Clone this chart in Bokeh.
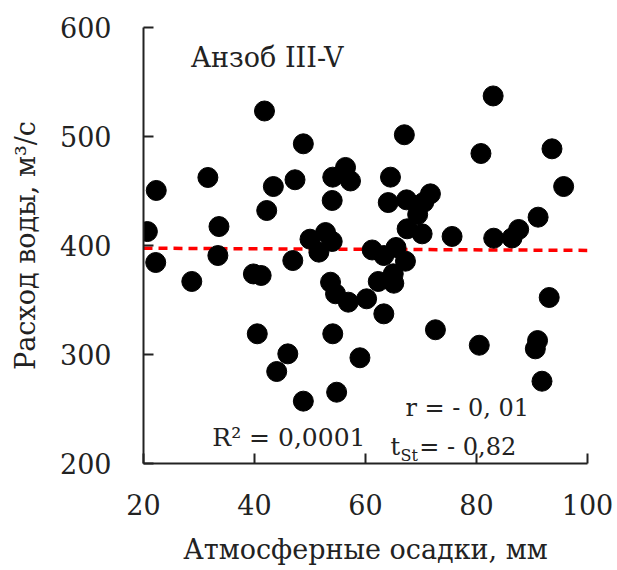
from bokeh.plotting import figure
from bokeh.models import Range1d, Label, FixedTicker
from bokeh.embed import file_html
from bokeh.resources import INLINE

# Atmospheric precipitation, mm
precip = [20.7, 22.2, 22.3, 28.7, 31.6, 33.4, 33.6, 39.8, 41.2, 40.5,
          41.8, 42.2, 43.4, 44.0, 46.0, 46.9, 47.3, 48.8, 48.8, 50.0,
          51.6, 52.8, 54.0, 54.1, 56.4, 57.3, 54.0, 53.7, 54.6, 56.9,
          54.1, 54.8, 59.0, 60.2, 61.2, 62.3, 63.3, 63.3, 64.5, 64.1,
          65.0, 65.1, 65.5, 67.0, 67.2, 67.4, 67.5, 69.4, 70.2, 70.5,
          71.7, 72.6, 75.6, 80.5, 80.8, 83.0, 83.1, 86.4, 87.6, 91.1,
          91.0, 90.6, 91.8, 93.1, 93.6, 95.7]
# Water discharge, m3/s
discharge = [412.8, 384.4, 450.5, 367.0, 462.4, 390.8, 417.4, 373.9, 372.5, 319.0,
             523.4, 432.1, 454.1, 284.4, 300.6, 386.2, 460.3, 493.3, 257.2, 405.8,
             393.9, 411.9, 403.7, 462.7, 471.6, 459.2, 441.3, 366.3, 355.7, 348.0,
             319.0, 265.4, 297.0, 351.1, 395.9, 367.0, 390.8, 337.3, 462.7, 439.4,
             374.0, 365.4, 398.2, 501.6, 385.6, 441.9, 415.3, 428.4, 410.7, 439.7,
             447.4, 322.7, 408.3, 308.5, 484.4, 537.2, 406.7, 406.9, 414.7, 426.0,
             312.8, 305.2, 275.5, 352.3, 488.7, 454.1]

trend_x = [20, 100]
trend_y = [397.5, 395.5]

x_ticks = [20, 40, 60, 80, 100]
y_ticks = [200, 300, 400, 500, 600]

FONT = "DejaVu Serif"
TXT = "#222222"

p = figure(frame_width=444, frame_height=436, output_backend="svg",
           toolbar_location=None, x_range=Range1d(20, 100), y_range=Range1d(200, 600),
           min_border_left=143, min_border_right=30, min_border_top=27, min_border_bottom=107)
p.outline_line_color = None
p.xgrid.grid_line_color = None
p.ygrid.grid_line_color = None

p.line(trend_x, trend_y, line_color="#ff0000", line_width=3.5, line_dash="9 6")
p.scatter(precip, discharge, size=20, fill_color="black", line_color="black")

for ax in (p.xaxis[0], p.yaxis[0]):
    ax.axis_line_width = 2
    ax.axis_line_color = "#222222"
    ax.major_tick_line_width = 2
    ax.major_tick_line_color = "#222222"
    ax.major_tick_in = 10
    ax.major_tick_out = 0
    ax.minor_tick_line_color = None
    ax.major_label_text_font = FONT
    ax.major_label_text_font_size = "27px"
    ax.major_label_text_color = TXT
    ax.axis_label_text_font = FONT
    ax.axis_label_text_font_size = "27px"
    ax.axis_label_text_font_style = "normal"
    ax.axis_label_text_color = TXT

p.xaxis[0].ticker = FixedTicker(ticks=x_ticks)
p.yaxis[0].ticker = FixedTicker(ticks=y_ticks)
p.xaxis[0].major_label_standoff = 30
p.yaxis[0].major_label_standoff = 32
p.xaxis[0].axis_label = "Атмосферные осадки, мм"
p.yaxis[0].axis_label = "Расход воды, м³/с"
p.xaxis[0].axis_label_standoff = 16
p.yaxis[0].axis_label_standoff = 16

def lab(x, y, t, size="25px"):
    p.add_layout(Label(x=x, y=y, text=t, text_font=FONT, text_font_size=size,
                       text_color=TXT, text_baseline="alphabetic"))

lab(28.5, 572.5, "Анзоб III-V", size="27px")
lab(32.4, 224.0, "R² = 0,0001")
lab(67.2, 250.5, "r = - 0, 01", size="24px")
lab(64.5, 214.7, "t", size="24px")
lab(66.3, 207.5, "St", size="16px")
lab(69.7, 214.7, "= - 0,82", size="24px")

open("out.html", "w").write(file_html(p, INLINE))
